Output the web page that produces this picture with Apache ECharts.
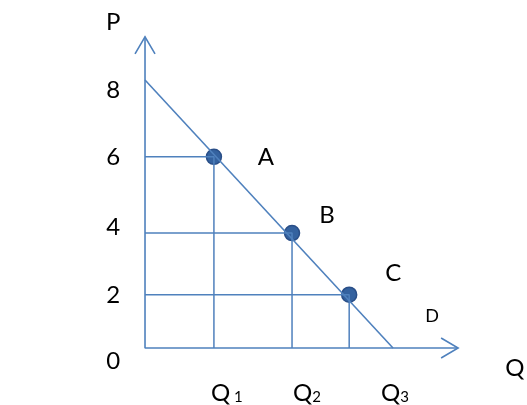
<!DOCTYPE html>
<html>
<head>
<meta charset="utf-8">
<script src="https://cdn.jsdelivr.net/npm/echarts@6/dist/echarts.min.js"></script>
<style>
html, body { margin: 0; padding: 0; background: #fff; }
#container { width: 527px; height: 405px; }
</style>
</head>
<body>
<div id="container"></div>
<script>
// demand line D (end points, Q / P)
var demandQ = [0, 7.81];
var demandP = [8.44, 0];
// marked points on the curve
var pointNames = ['A', 'B', 'C'];
var pointQ = [2.17, 4.63, 6.43];
var pointP = [6.02, 3.62, 1.68];
// where the axes stop (arrow tips)
var axisQMax = 9.86;
var axisPMax = 9.80;
// price labels, as drawn beside the P axis
var pTickLabels = ['8', '6', '4', '2', '0'];
var pTickPos = [8.13, 6.02, 3.81, 1.67, -0.41];
// quantity labels under the Q axis
var qTickLabels = ['Q{s| 1}', 'Q{s|2}', 'Q{s|3}'];
var qTickPos = [2.58, 5.10, 7.87];
// axis names and curve name
var nameLabels = ['P', 'Q', 'D'];
var nameQ = [-1.0, 11.65, 9.04];
var nameP = [10.27, -0.63, 1.0];

var blue = '#4F81BD';
var font = 'Lato, "Open Sans", sans-serif';

var myChart = echarts.init(document.getElementById('container'));

function textSeries(data, size, rich) {
    return {
        type: 'scatter',
        symbolSize: 0,
        silent: true,
        clip: false,
        itemStyle: { opacity: 1 },
        data: data,
        label: {
            show: true,
            position: 'inside',
            color: '#000',
            fontFamily: font,
            fontSize: size,
            formatter: function (p) { return p.data.text; },
            rich: rich
        }
    };
}

// guide lines: from P axis to the point, then down to Q axis
var guideSeries = [];
for (var i = 0; i < pointQ.length; i++) {
    guideSeries.push({
        type: 'line',
        symbol: 'none',
        silent: true,
        lineStyle: { color: blue, width: 1.5 },
        data: [[0, pointP[i]], [pointQ[i], pointP[i]], [pointQ[i], 0]]
    });
}

// offsets of the A/B/C text from its dot (px)
var pointLabelOffset = [[52, 0], [35, -18], [44, -21]];

var option = {
    animation: false,
    grid: { left: 0, right: 0, top: 0, bottom: 0 },
    xAxis: { type: 'value', min: -4.567, max: 12.03, show: false },
    yAxis: { type: 'value', min: -1.795, max: 10.96, show: false },
    series: [
        // the two axes
        {
            type: 'line',
            symbol: 'none',
            silent: true,
            lineStyle: { color: blue, width: 1.6 },
            data: [[0, axisPMax], [0, 0], [axisQMax, 0]]
        },
        // demand curve
        {
            type: 'line',
            symbol: 'none',
            silent: true,
            lineStyle: { color: blue, width: 1.6 },
            data: demandQ.map(function (q, i) { return [q, demandP[i]]; })
        }
    ].concat(guideSeries).concat([
        // dots A, B, C
        {
            type: 'scatter',
            symbolSize: 15,
            itemStyle: {
                color: '#34629F',
                borderColor: '#2A4F88',
                borderWidth: 1.5,
                opacity: 1
            },
            data: pointQ.map(function (q, i) {
                return {
                    value: [q, pointP[i]],
                    label: { offset: pointLabelOffset[i] }
                };
            }),
            label: {
                show: true,
                position: 'inside',
                color: '#000',
                fontFamily: font,
                fontSize: 24,
                formatter: function (p) { return pointNames[p.dataIndex]; }
            }
        },
        textSeries(pTickLabels.map(function (t, i) {
            return { value: [-1.0, pTickPos[i]], text: t };
        }), 24),
        textSeries(qTickLabels.map(function (t, i) {
            return { value: [qTickPos[i], -1.42], text: t };
        }), 24, { s: { fontFamily: font, fontSize: 15, color: '#000', verticalAlign: 'bottom', padding: [9, 0, 0, 0] } }),
        textSeries(nameLabels.map(function (t, i) {
            return { value: [nameQ[i], nameP[i]], text: t };
        }), 24)
    ])
};
// D is a smaller letter
option.series[option.series.length - 1].data[2].label = { fontSize: 18 };

myChart.setOption(option);

// open arrow heads at the ends of the axes
var tipP = myChart.convertToPixel({ gridIndex: 0 }, [0, axisPMax]);
var tipQ = myChart.convertToPixel({ gridIndex: 0 }, [axisQMax, 0]);
myChart.setOption({
    graphic: [
        {
            type: 'polyline',
            shape: { points: [[tipP[0] - 10, tipP[1] + 17], tipP, [tipP[0] + 10, tipP[1] + 17]] },
            style: { stroke: blue, lineWidth: 1.6, fill: null }
        },
        {
            type: 'polyline',
            shape: { points: [[tipQ[0] - 17, tipQ[1] - 10], tipQ, [tipQ[0] - 17, tipQ[1] + 10]] },
            style: { stroke: blue, lineWidth: 1.6, fill: null }
        }
    ]
});
</script>
</body>
</html>
